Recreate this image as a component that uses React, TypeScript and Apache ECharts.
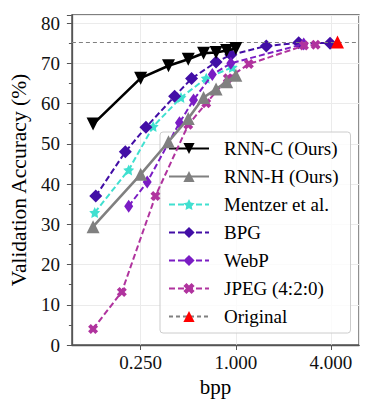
import React, { useEffect, useRef } from "react";
import * as echarts from "echarts";

// ---- data ----
const rnnCBpp = [0.125, 0.25, 0.375, 0.5, 0.625, 0.75, 0.875, 1.0];
const rnnCAcc = [54.9, 66.3, 69.4, 71.0, 72.5, 72.7, 73.2, 73.7];

const rnnHBpp = [0.125, 0.25, 0.375, 0.5, 0.625, 0.75, 0.875, 1.0];
const rnnHAcc = [29.4, 42.4, 50.5, 56.3, 61.5, 63.6, 65.4, 67.0];

const mentzerBpp = [0.128, 0.21, 0.3, 0.45, 0.65, 0.95];
const mentzerAcc = [32.9, 43.5, 54.3, 61.5, 66.3, 69.0];

const bpgBpp = [0.13, 0.2, 0.27, 0.41, 0.525, 0.75, 0.93, 1.56, 2.5, 3.95];
const bpgAcc = [37.0, 48.0, 54.1, 61.8, 66.2, 70.3, 72.1, 74.3, 75.1, 75.0];

const webpBpp = [0.21, 0.275, 0.44, 0.54, 0.71, 0.93, 2.69];
const webpAcc = [34.5, 40.5, 55.2, 60.9, 67.2, 70.0, 74.8];

const jpegBpp = [0.125, 0.19, 0.31, 0.5, 0.65, 0.89, 1.21, 2.7, 3.2];
const jpegAcc = [4.0, 13.2, 37.0, 54.7, 60.1, 66.3, 69.8, 74.4, 74.6];

const originalBpp = [4.4];
const originalAcc = [75.3];

const xTickLabels = [0.25, 1, 4];
const yTicks = [0, 10, 20, 30, 40, 50, 60, 70, 80];

const zip = (xs: number[], ys: number[]) => xs.map((x, i) => [x, ys[i]]);

const FONT = "Liberation Serif";

const STAR =
  "path://M0,-10 L2.9,-4 L9.5,-3.1 L4.7,1.5 L5.9,8.1 L0,5 L-5.9,8.1 L-4.7,1.5 L-9.5,-3.1 L-2.9,-4 Z";
const XMARK =
  "path://M-1,-0.45 L-0.45,-1 L0,-0.55 L0.45,-1 L1,-0.45 L0.55,0 L1,0.45 L0.45,1 L0,0.55 L-0.45,1 L-1,0.45 L-0.55,0 Z";
const THIN_DIAMOND = "path://M0,-1 L0.62,0 L0,1 L-0.62,0 Z";
const DOWN_TRI = "path://M-1,-0.9 L1,-0.9 L0,0.9 Z";
const UP_TRI = "path://M-1,0.9 L1,0.9 L0,-0.9 Z";

export default function App() {
  const ref = useRef<HTMLDivElement>(null);

  useEffect(() => {
    if (!ref.current) return;
    const chart = echarts.init(ref.current, undefined, { renderer: "svg" });

    const dashed = [6, 3];

    const option: any = {
      animation: false,
      backgroundColor: "#ffffff",
      textStyle: { fontFamily: FONT, color: "#000" },
      grid: {
        left: 70,
        right: 15,
        top: 15,
        bottom: 68,
        show: true,
        borderColor: "#555555",
        borderWidth: 1.3,
        backgroundColor: "transparent",
      },
      xAxis: {
        type: "log",
        logBase: 4,
        min: 0.0918,
        max: 6.02,
        splitNumber: 3,
        name: "bpp",
        nameLocation: "middle",
        nameGap: 31,
        nameTextStyle: { fontFamily: FONT, fontSize: 21, color: "#000" },
        axisLine: { show: true, lineStyle: { color: "#555555", width: 1.3 } },
        axisTick: { show: true, inside: false, length: 5, lineStyle: { color: "#555555" } },
        axisLabel: {
          fontFamily: FONT,
          fontSize: 19,
          color: "#111",
          margin: 8,
          showMinLabel: false,
          showMaxLabel: false,
          formatter: (v: number) => {
            const hit = xTickLabels.find((t) => Math.abs(t - v) / t < 1e-6);
            return hit !== undefined ? hit.toFixed(3) : "";
          },
        },
        splitLine: { show: true, lineStyle: { color: "#ebebeb", width: 1 } },
      },
      yAxis: {
        type: "value",
        min: 0,
        max: 82,
        interval: 10,
        name: "Validation Accuracy (%)",
        nameLocation: "middle",
        nameGap: 26,
        nameTextStyle: { fontFamily: FONT, fontSize: 21.5, color: "#000" },
        axisLine: { show: true, lineStyle: { color: "#555555", width: 1.3 } },
        axisTick: { show: true, inside: false, length: 5, lineStyle: { color: "#555555" } },
        minorTick: { show: true, splitNumber: 2, length: 3, lineStyle: { color: "#555555" } },
        axisLabel: {
          fontFamily: FONT,
          fontSize: 19,
          color: "#111",
          margin: 12,
          formatter: (v: number) => (yTicks.includes(v) ? String(v) : ""),
        },
        splitLine: { show: true, lineStyle: { color: "#ebebeb", width: 1 } },
      },
      legend: {
        orient: "vertical",
        left: 160,
        top: 132,
        itemWidth: 40,
        itemHeight: 14,
        itemGap: 9,
        padding: [7, 12, 7, 8],
        backgroundColor: "rgba(255,255,255,0.8)",
        borderColor: "#cccccc",
        borderWidth: 1,
        borderRadius: 3,
        textStyle: { fontFamily: FONT, fontSize: 19, color: "#000", padding: [0, 0, 0, 10] },
        data: [
          "RNN-C (Ours)",
          "RNN-H (Ours)",
          "Mentzer et al.",
          "BPG",
          "WebP",
          "JPEG (4:2:0)",
          "Original",
        ],
      },
      series: [
        {
          name: "Mentzer et al.",
          type: "line",
          data: zip(mentzerBpp, mentzerAcc),
          symbol: STAR,
          symbolSize: 11,
          itemStyle: { color: "#40e0d0" },
          lineStyle: { color: "#40e0d0", width: 2, type: dashed },
          z: 2,
        },
        {
          name: "BPG",
          type: "line",
          data: zip(bpgBpp, bpgAcc),
          symbol: "diamond",
          symbolSize: 13,
          itemStyle: { color: "#420ea6" },
          lineStyle: { color: "#420ea6", width: 2, type: dashed },
          z: 3,
        },
        {
          name: "WebP",
          type: "line",
          data: zip(webpBpp, webpAcc),
          symbol: THIN_DIAMOND,
          symbolSize: [9, 13],
          itemStyle: { color: "#7a1cc4" },
          lineStyle: { color: "#7a1cc4", width: 2, type: dashed },
          z: 4,
        },
        {
          name: "JPEG (4:2:0)",
          type: "line",
          data: zip(jpegBpp, jpegAcc),
          symbol: XMARK,
          symbolSize: 10,
          itemStyle: { color: "#b0339e" },
          lineStyle: { color: "#b0339e", width: 2, type: dashed },
          z: 5,
        },
        {
          name: "RNN-H (Ours)",
          type: "line",
          data: zip(rnnHBpp, rnnHAcc),
          symbol: UP_TRI,
          symbolSize: 13,
          itemStyle: { color: "#808080" },
          lineStyle: { color: "#808080", width: 2.6 },
          z: 6,
        },
        {
          name: "RNN-C (Ours)",
          type: "line",
          data: zip(rnnCBpp, rnnCAcc),
          symbol: DOWN_TRI,
          symbolSize: 13,
          itemStyle: { color: "#000000" },
          lineStyle: { color: "#000000", width: 2.6 },
          z: 7,
        },
        {
          name: "Original",
          type: "line",
          data: zip(originalBpp, originalAcc),
          symbol: UP_TRI,
          symbolSize: 13,
          itemStyle: { color: "#ff0000" },
          lineStyle: { color: "#808080", width: 1.2, type: [4, 3] },
          markLine: {
            silent: true,
            symbol: "none",
            label: { show: false },
            lineStyle: { color: "#808080", width: 1.2, type: [4, 3] },
            data: [{ yAxis: originalAcc[0] }],
          },
          z: 8,
        },
      ],
    };

    chart.setOption(option);
    return () => chart.dispose();
  }, []);

  return (
    <div
      ref={ref}
      style={{ position: "absolute", left: 0, top: 0, width: 374, height: 413 }}
    />
  );
}
